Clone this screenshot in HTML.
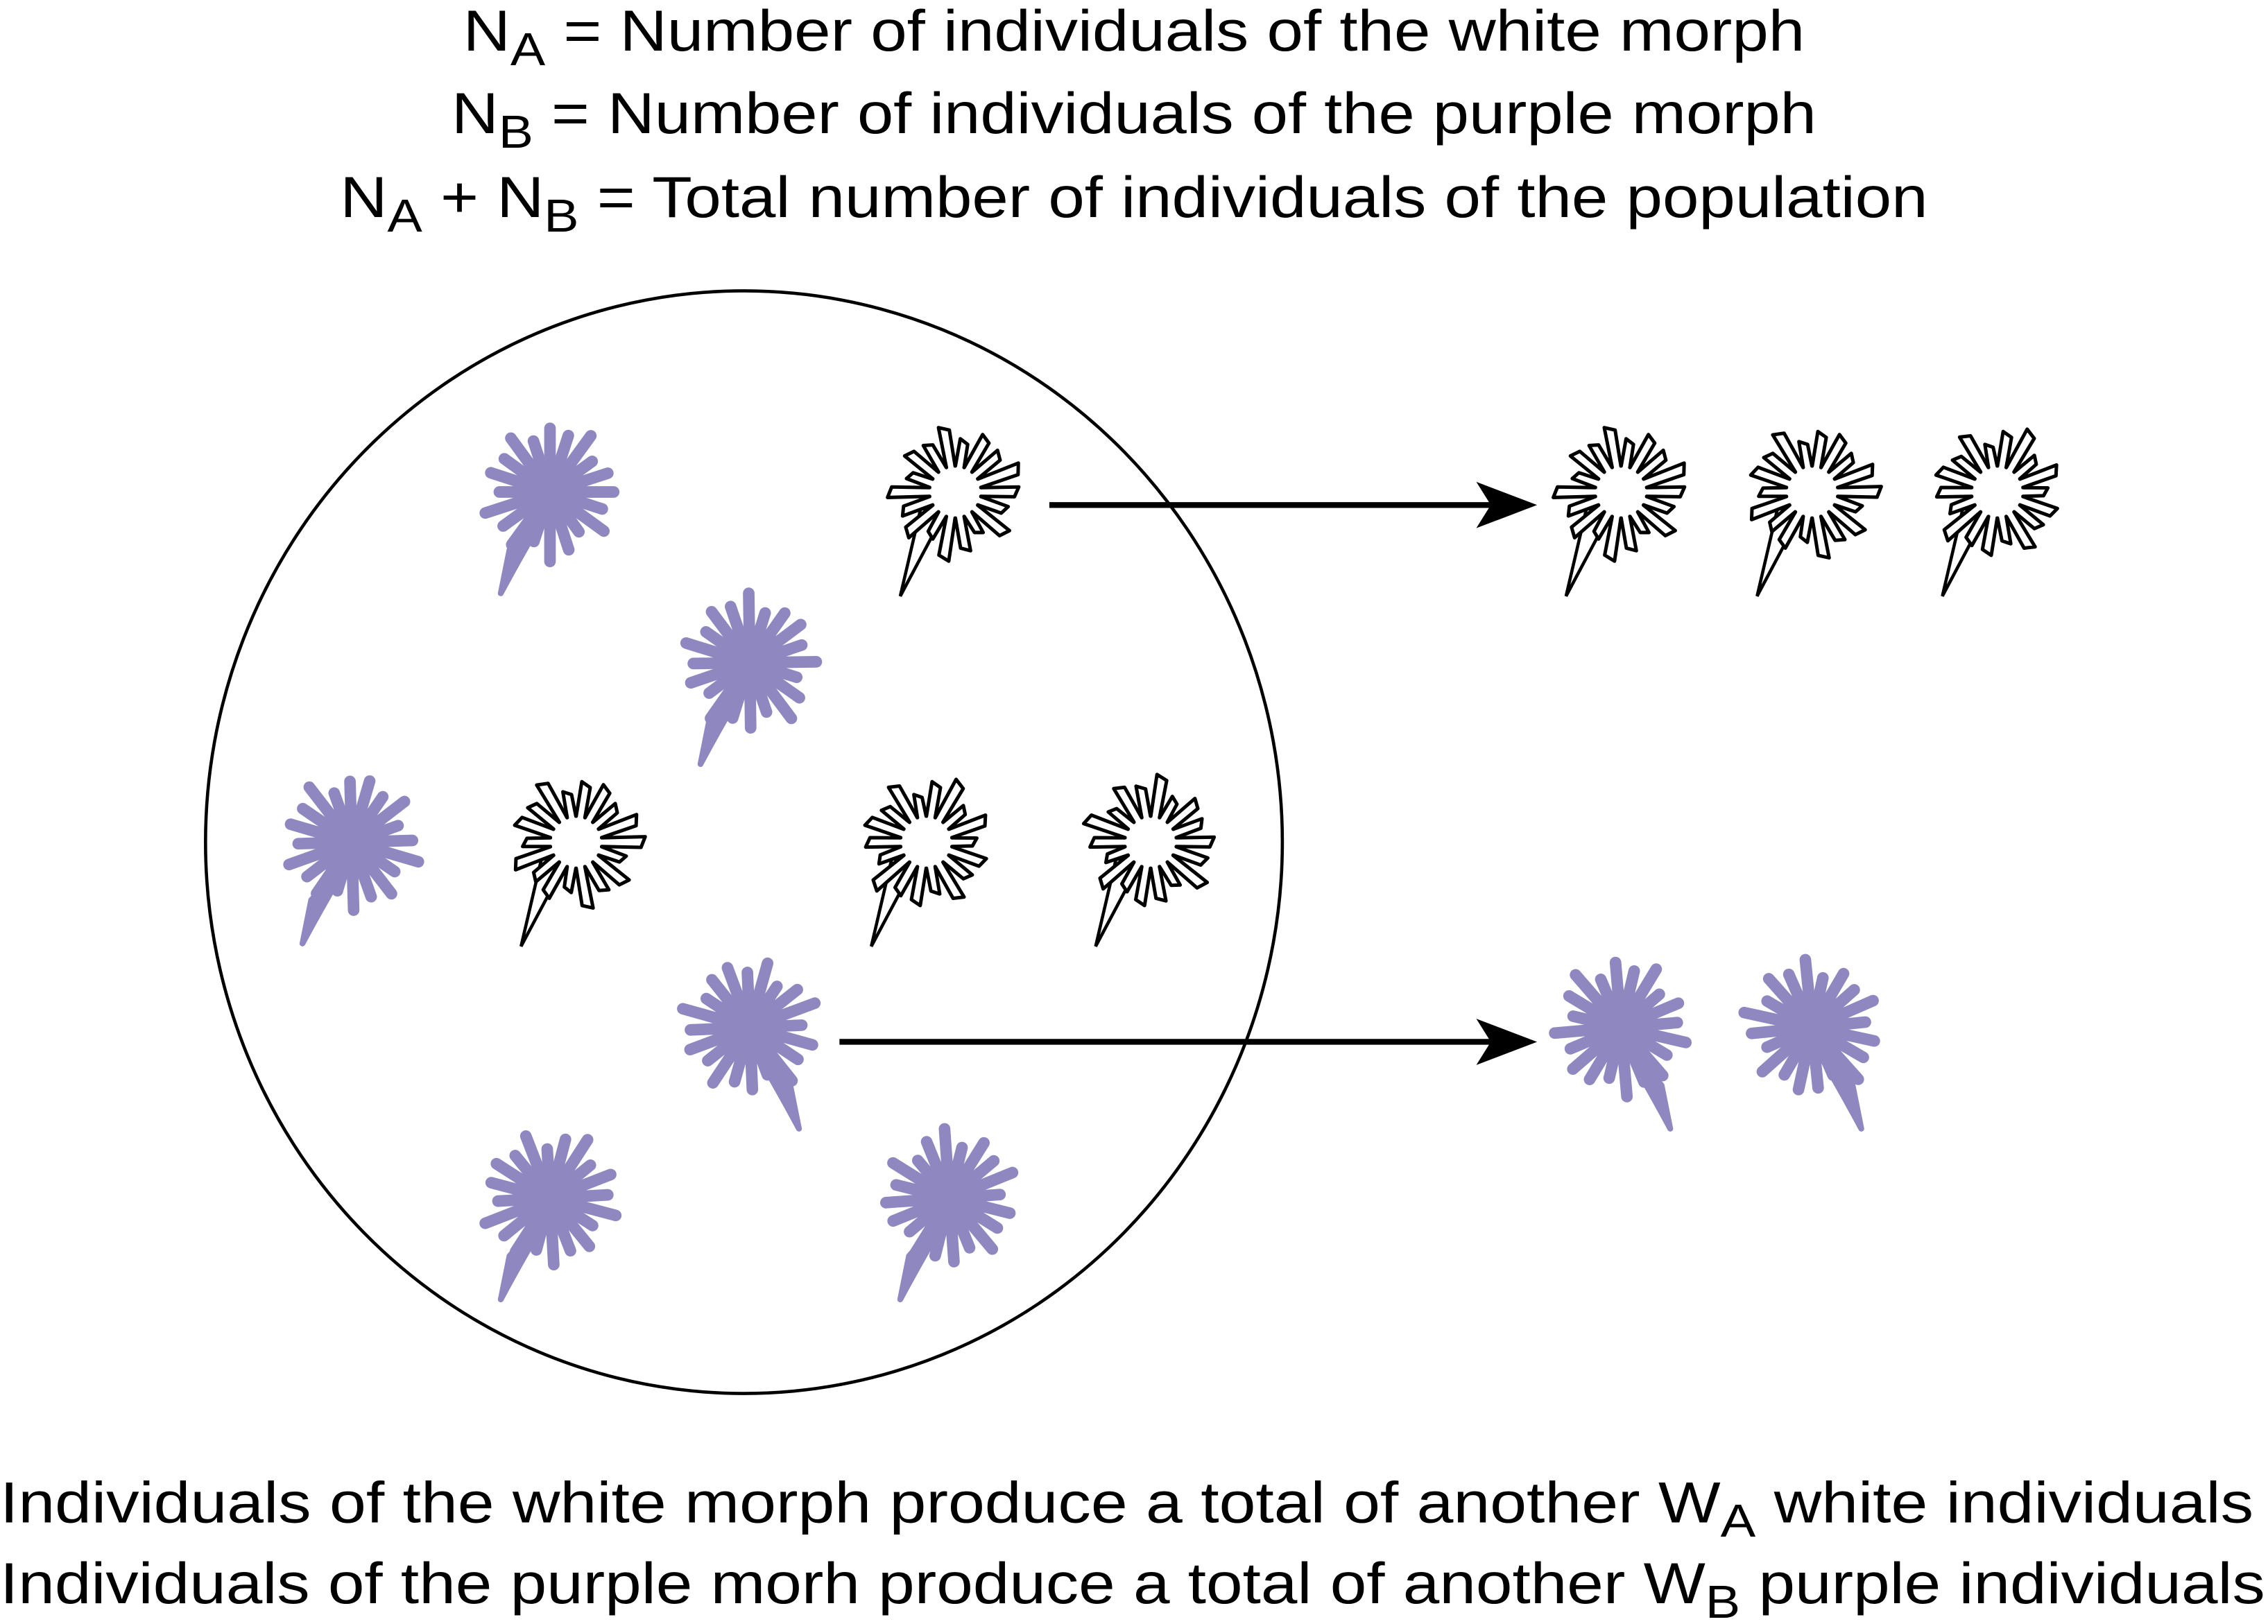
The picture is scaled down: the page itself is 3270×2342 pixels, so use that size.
<!DOCTYPE html>
<html><head><meta charset="utf-8"><style>
html,body{margin:0;padding:0;background:#fff;}
svg{display:block;}
text{font-family:"Liberation Sans",sans-serif;fill:#000;}
</style></head><body>
<svg id="fig" width="3270" height="2342" viewBox="0 0 1567 1122.3" preserveAspectRatio="none" xmlns="http://www.w3.org/2000/svg">
<g font-size="40">
<text x="320" y="35" textLength="927" lengthAdjust="spacingAndGlyphs">N<tspan font-size="32" dy="10">A</tspan><tspan dy="-10"> = Number of individuals of the white morph</tspan></text>
<text x="312" y="92" textLength="943" lengthAdjust="spacingAndGlyphs">N<tspan font-size="32" dy="10">B</tspan><tspan dy="-10"> = Number of individuals of the purple morph</tspan></text>
<text x="235" y="150" textLength="1097" lengthAdjust="spacingAndGlyphs">N<tspan font-size="32" dy="10">A</tspan><tspan dy="-10"> + N</tspan><tspan font-size="32" dy="10">B</tspan><tspan dy="-10"> = Total number of individuals of the population</tspan></text>
</g>
<ellipse cx="514" cy="582" rx="372" ry="381" fill="none" stroke="#000" stroke-width="2.2"/>
<g id="flowers"></g>
<g>
<line x1="725" y1="349" x2="1030" y2="349" stroke="#000" stroke-width="4"/>
<polygon points="1020,333 1062,349 1020,365 1030,349" fill="#000"/>
<line x1="580" y1="720" x2="1030" y2="720" stroke="#000" stroke-width="4"/>
<polygon points="1020,704 1062,720 1020,736 1030,720" fill="#000"/>
</g>
<g font-size="40">
<text x="0" y="1052" textLength="1557" lengthAdjust="spacingAndGlyphs">Individuals of the white morph produce a total of another W<tspan font-size="32" dy="10">A</tspan><tspan dy="-10"> white individuals</tspan></text>
<text x="0" y="1108" textLength="1565" lengthAdjust="spacingAndGlyphs">Individuals of the purple morh produce a total of another W<tspan font-size="32" dy="10">B</tspan><tspan dy="-10"> purple individuals</tspan></text>
</g>
</svg>
<script>
const NS="http://www.w3.org/2000/svg";
const purple=[[380,340,-1],[518,458,-1],[243,582,-1],[518,710,1],[380,828,-1],[656,828,-1],[1120,710,1],[1252,710,1]];
const white=[[660,340,-1],[398,582,-1],[640,582,-1],[795,582,-1],[1120,340,-1],[1252,340,-1],[1380,340,-1]];
const lens=[44,38,46,34,42,48,36,45,40,47,35,43,39,46,37,44,41,48,36,42];
const g=document.getElementById('flowers');
function purpleFlower(cx,cy,dir,i){
  const grp=document.createElementNS(NS,'g');
  
  
  const st=document.createElementNS(NS,'path');
  st.setAttribute('d',`M${cx-dir*3},${cy+5} Q${cx+dir*18},${cy+40} ${cx+dir*34},${cy+70} L${cx+dir*28},${cy+40} Z`);
  st.setAttribute('stroke','#8f87c0');st.setAttribute('stroke-width','4');st.setAttribute('fill','#8f87c0');st.setAttribute('stroke-linejoin','round');
  grp.appendChild(st);
  const n=20;
  for(let k=0;k<n;k++){
    const a=k/n*2*Math.PI+i*0.3;
    const L=lens[(k+i*3)%lens.length];
    const p=document.createElementNS(NS,'line');
    p.setAttribute('x1',cx);p.setAttribute('y1',cy);
    p.setAttribute('x2',cx+Math.cos(a)*L);p.setAttribute('y2',cy+Math.sin(a)*L);
    p.setAttribute('stroke','#8f87c0');p.setAttribute('stroke-width','8');p.setAttribute('stroke-linecap','round');
    grp.appendChild(p);
  }
  const c=document.createElementNS(NS,'circle');
  c.setAttribute('cx',cx);c.setAttribute('cy',cy);c.setAttribute('r','22');c.setAttribute('fill','#8f87c0');
  grp.appendChild(c);
  g.appendChild(grp);
}
function whiteFlower(cx,cy,dir,i){
  const grp=document.createElementNS(NS,'g');
  
  
  const st=document.createElementNS(NS,'path');
  st.setAttribute('d',`M${cx-4},${cy+8} L${cx+dir*38},${cy+72} L${cx+dir*24},${cy+12} Z`);
  st.setAttribute('stroke','#000');st.setAttribute('stroke-width','2.2');st.setAttribute('fill','#fff');
  grp.appendChild(st);
  const n=18;let d='';
  for(let k=0;k<n;k++){
    const a0=k/n*2*Math.PI;
    const L=lens[(k+i*5)%lens.length];
    const pts=[[a0-0.17,18],[a0-0.08,L],[a0+0.08,L-3],[a0+0.17,18]];
    pts.forEach((q,j)=>{d+=(k===0&&j===0?'M':'L')+(cx+Math.cos(q[0])*q[1]).toFixed(1)+','+(cy+Math.sin(q[0])*q[1]).toFixed(1)+' ';});
  }
  d+='Z';
  const p=document.createElementNS(NS,'path');
  p.setAttribute('d',d);p.setAttribute('fill','#fff');p.setAttribute('stroke','#000');p.setAttribute('stroke-width','2.4');p.setAttribute('stroke-linejoin','round');
  grp.appendChild(p);
  g.appendChild(grp);
}
purple.forEach((f,i)=>purpleFlower(f[0],f[1],f[2],i));
white.forEach((f,i)=>whiteFlower(f[0],f[1],f[2],i));
</script>
</body></html>
